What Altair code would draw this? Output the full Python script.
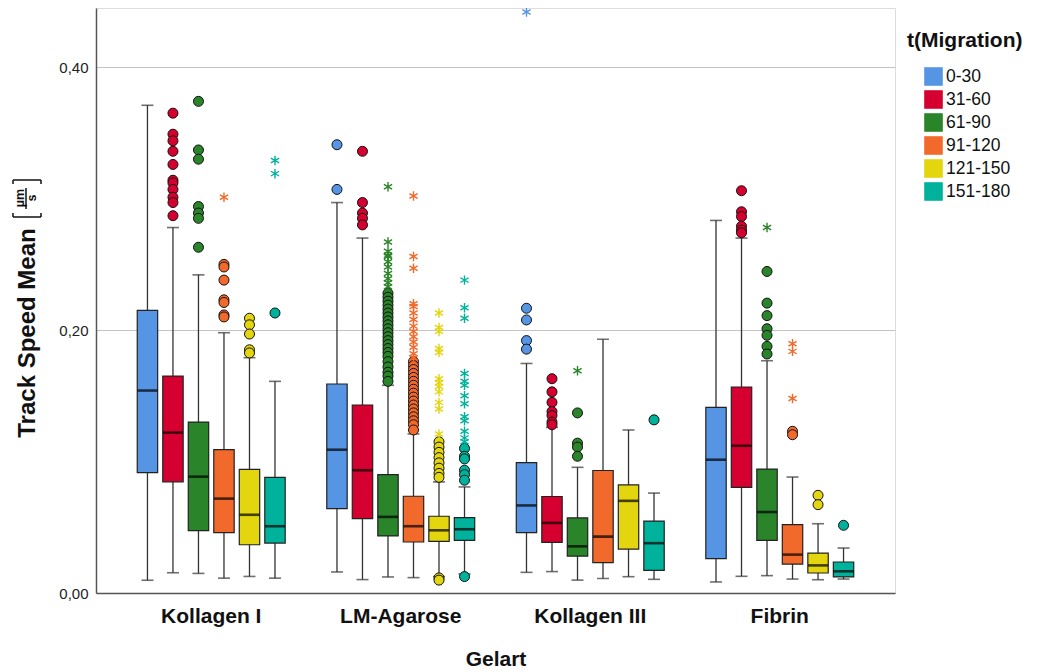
import altair as alt
import pandas as pd

groups = ["Kollagen I", "LM-Agarose", "Kollagen III", "Fibrin"]
series = ["0-30", "31-60", "61-90", "91-120", "121-150", "151-180"]
colors = ["#5595e4", "#d5002f", "#2a8429", "#f26a2b", "#e3d50e", "#00b19c"]

# box statistics: one row per group, one entry per series
whisker_low = [
    [0.0097, 0.0154, 0.0149, 0.0113, 0.0126, 0.0113],
    [0.0160, 0.0102, 0.0122, 0.0117, 0.0125, 0.0145],
    [0.0157, 0.0163, 0.0098, 0.0110, 0.0124, 0.0104],
    [0.0084, 0.0127, 0.0132, 0.0106, 0.0101, 0.0106],
]
q1 = [
    [0.0915, 0.0846, 0.0474, 0.0460, 0.0367, 0.0380],
    [0.0642, 0.0566, 0.0434, 0.0388, 0.0393, 0.0401],
    [0.0459, 0.0385, 0.0281, 0.0231, 0.0334, 0.0172],
    [0.0261, 0.0804, 0.0400, 0.0220, 0.0152, 0.0122],
]
median = [
    [0.1540, 0.1220, 0.0885, 0.0718, 0.0595, 0.0508],
    [0.1090, 0.0934, 0.0579, 0.0508, 0.0477, 0.0485],
    [0.0666, 0.0533, 0.0355, 0.0429, 0.0701, 0.0379],
    [0.1014, 0.1120, 0.0616, 0.0292, 0.0210, 0.0165],
]
q3 = [
    [0.2150, 0.1650, 0.1300, 0.1090, 0.0940, 0.0880],
    [0.1590, 0.1430, 0.0900, 0.0736, 0.0584, 0.0574],
    [0.0991, 0.0734, 0.0571, 0.0932, 0.0822, 0.0547],
    [0.1412, 0.1567, 0.0943, 0.0520, 0.0304, 0.0236],
]
whisker_high = [
    [0.3710, 0.2780, 0.2420, 0.1980, 0.1790, 0.1610],
    [0.2970, 0.2700, 0.1580, 0.1210, 0.0845, 0.0807],
    [0.1746, 0.1260, 0.0956, 0.1930, 0.1240, 0.0760],
    [0.2834, 0.2700, 0.1767, 0.0882, 0.0527, 0.0342],
]

# outliers (circles) and extreme values (asterisks)
circles_kollagen1 = {
    "31-60": [0.365, 0.349, 0.344, 0.336, 0.326, 0.314, 0.312, 0.307, 0.301, 0.297, 0.287],
    "61-90": [0.374, 0.337, 0.330, 0.294, 0.289, 0.285, 0.263],
    "91-120": [0.250, 0.248, 0.238, 0.223, 0.221, 0.2115, 0.210],
    "121-150": [0.209, 0.204, 0.197, 0.185, 0.1826],
    "151-180": [0.213],
}
stars_kollagen1 = {"91-120": [0.301], "151-180": [0.329, 0.319]}

circles_agarose = {
    "0-30": [0.341, 0.307],
    "31-60": [0.336, 0.297, 0.289, 0.285, 0.280],
    "61-90": [0.228, 0.225, 0.222, 0.219, 0.216, 0.213, 0.210, 0.207, 0.204, 0.201, 0.198,
              0.195, 0.192, 0.189, 0.186, 0.183, 0.180, 0.176, 0.172, 0.168, 0.165, 0.161],
    "91-120": [0.176, 0.173, 0.170, 0.167, 0.164, 0.161, 0.158, 0.155, 0.152, 0.149, 0.146,
               0.143, 0.140, 0.137, 0.134, 0.131, 0.128, 0.124],
    "121-150": [0.115, 0.111, 0.107, 0.103, 0.099, 0.095, 0.091, 0.088, 0.0115, 0.0098],
    "151-180": [0.110, 0.104, 0.102, 0.0934, 0.090, 0.0858, 0.0125],
}
stars_agarose = {
    "61-90": [0.309, 0.267, 0.260, 0.257, 0.256, 0.252, 0.248, 0.243, 0.239, 0.236, 0.233],
    "91-120": [0.302, 0.256, 0.247, 0.220, 0.218, 0.213, 0.208, 0.203, 0.199, 0.195, 0.191,
               0.187, 0.182, 0.179],
    "121-150": [0.213, 0.202, 0.199, 0.186, 0.183, 0.163, 0.160, 0.157, 0.153, 0.145, 0.140, 0.121],
    "151-180": [0.238, 0.217, 0.209, 0.167, 0.161, 0.158, 0.150, 0.144, 0.134, 0.131, 0.123,
                0.118, 0.115],
}

circles_kollagen3 = {
    "0-30": [0.2166, 0.2077, 0.192, 0.1855],
    "31-60": [0.163, 0.153, 0.145, 0.138, 0.135, 0.130, 0.128],
    "61-90": [0.137, 0.114, 0.111, 0.104],
    "151-180": [0.1317],
}
stars_kollagen3 = {"0-30": [0.442], "61-90": [0.169]}

circles_fibrin = {
    "31-60": [0.306, 0.290, 0.2864, 0.279, 0.276, 0.274],
    "61-90": [0.2446, 0.2205, 0.211, 0.201, 0.196, 0.1876, 0.1818],
    "91-120": [0.123, 0.1204],
    "121-150": [0.0743, 0.0672],
    "151-180": [0.0515],
}
stars_fibrin = {"61-90": [0.278], "91-120": [0.1896, 0.1838, 0.148]}

y_title = "Track Speed Mean"
y_unit_top = "µm"
y_unit_bottom = "s"
legend_title_text = "t(Migration)"

# ---- tables ----
box_rows = []
for gi, g in enumerate(groups):
    for si, s in enumerate(series):
        box_rows.append({
            "group": g, "series": s,
            "low": whisker_low[gi][si], "q1": q1[gi][si], "median": median[gi][si],
            "q3": q3[gi][si], "high": whisker_high[gi][si],
        })
box_df = pd.DataFrame(box_rows)


def to_rows(group, d):
    return [{"group": group, "series": s, "value": v} for s, vals in d.items() for v in vals]


circle_df = pd.DataFrame(
    to_rows("Kollagen I", circles_kollagen1) + to_rows("LM-Agarose", circles_agarose)
    + to_rows("Kollagen III", circles_kollagen3) + to_rows("Fibrin", circles_fibrin)
)
star_df = pd.DataFrame(
    to_rows("Kollagen I", stars_kollagen1) + to_rows("LM-Agarose", stars_agarose)
    + to_rows("Kollagen III", stars_kollagen3) + to_rows("Fibrin", stars_fibrin)
)

FONT = "Liberation Sans"
yscale = alt.Scale(domain=[0, 0.445], nice=False, zero=True)
xenc = alt.X(
    "group:N", sort=groups, scale=alt.Scale(paddingInner=0, paddingOuter=0.108),
    axis=alt.Axis(title="Gelart", labelFontSize=21, labelFontWeight="bold", labelColor="#111",
                  titleFontSize=21, titleFontWeight="bold", titleColor="#111", labelPadding=12,
                  titlePadding=22, ticks=False, domainColor="#555", domainWidth=1.5,
                  labelAngle=0, labelFont=FONT, titleFont=FONT),
)
xoff = alt.XOffset("series:N", sort=series,
                   scale=alt.Scale(paddingInner=0.2, paddingOuter=0.815))
cscale = alt.Scale(domain=series, range=colors)
yaxis = alt.Axis(
    title=None, values=[0, 0.2, 0.4],
    labelExpr="replace(format(datum.value, '.2f'), '.', ',')",
    grid=True, gridColor="#c4c4c4", gridWidth=1, ticks=False, domainColor="#555",
    domainWidth=1.5, labelFontSize=15, labelColor="#222", labelPadding=8, labelFont=FONT,
)

base = alt.Chart(box_df).encode(x=xenc, xOffset=xoff)

whiskers = base.mark_rule(color="#333", strokeWidth=1.3).encode(
    y=alt.Y("low:Q", scale=yscale, axis=yaxis), y2="high:Q")
cap_low = base.mark_tick(color="#333", size=12, thickness=1.6).encode(y="low:Q")
cap_high = base.mark_tick(color="#333", size=12, thickness=1.6).encode(y="high:Q")
boxes = base.mark_bar(stroke="#222", strokeWidth=1.2, opacity=1).encode(
    y="q1:Q", y2="q3:Q",
    color=alt.Color("series:N", sort=series, scale=cscale,
                    legend=alt.Legend(title=None, orient="none", legendX=828, legendY=59,
                                      symbolType="square", symbolSize=300,
                                      symbolStrokeColor="#222", symbolStrokeWidth=1.2,
                                      symbolOpacity=1,
                                      labelFontSize=17.5, labelFont=FONT, labelColor="#111",
                                      rowPadding=0, labelOffset=3)),
)
medians = base.mark_tick(color="black", size=20, thickness=2.6).encode(y="median:Q")

circles = alt.Chart(circle_df).mark_point(
    shape="circle", filled=True, size=100, stroke="#111", strokeWidth=1, opacity=1, fillOpacity=1
).encode(
    x=alt.X("group:N", sort=groups), xOffset=alt.XOffset("series:N", sort=series), y="value:Q",
    fill=alt.Fill("series:N", sort=series, scale=cscale, legend=None),
)

asterisk = "M0,-1L0,1M-0.866,-0.5L0.866,0.5M-0.866,0.5L0.866,-0.5"
stars = alt.Chart(star_df).mark_point(
    shape=asterisk, filled=False, size=90, strokeWidth=1.4, opacity=1
).encode(
    x=alt.X("group:N", sort=groups), xOffset=alt.XOffset("series:N", sort=series), y="value:Q",
    stroke=alt.Stroke("series:N", sort=series, scale=cscale, legend=None),
)

# annotation texts (legend title, y-axis title with unit fraction)
legend_title = alt.Chart(pd.DataFrame({"t": [legend_title_text]})).mark_text(
    align="left", baseline="middle", fontSize=21, fontWeight="bold", font=FONT, color="#111"
).encode(text="t:N", x=alt.value(811), y=alt.value(33))

title_main = alt.Chart(pd.DataFrame({"t": [y_title]})).mark_text(
    align="center", baseline="middle", angle=270, fontSize=24, fontWeight="bold",
    font=FONT, color="#111"
).encode(text="t:N", x=alt.value(-68), y=alt.value(325))
unit_top = alt.Chart(pd.DataFrame({"t": [y_unit_top]})).mark_text(
    align="center", baseline="middle", angle=270, fontSize=12.5, fontWeight="bold",
    font=FONT, color="#111"
).encode(text="t:N", x=alt.value(-76), y=alt.value(190))
unit_bottom = alt.Chart(pd.DataFrame({"t": [y_unit_bottom]})).mark_text(
    align="center", baseline="middle", angle=270, fontSize=12.5, fontWeight="bold",
    font=FONT, color="#111"
).encode(text="t:N", x=alt.value(-64), y=alt.value(190))
frac_rule = alt.Chart(pd.DataFrame({"t": [0]})).mark_rule(color="#111", strokeWidth=1.5).encode(
    x=alt.value(-70), y=alt.value(180), y2=alt.value(201))
br_low = alt.Chart(pd.DataFrame({"t": [0]})).mark_rule(color="#111", strokeWidth=1.5).encode(
    x=alt.value(-83), x2=alt.value(-55), y=alt.value(209))
br_low_a = alt.Chart(pd.DataFrame({"t": [0]})).mark_rule(color="#111", strokeWidth=1.5).encode(
    x=alt.value(-83), y=alt.value(205), y2=alt.value(209))
br_low_b = alt.Chart(pd.DataFrame({"t": [0]})).mark_rule(color="#111", strokeWidth=1.5).encode(
    x=alt.value(-55), y=alt.value(205), y2=alt.value(209))
br_high = alt.Chart(pd.DataFrame({"t": [0]})).mark_rule(color="#111", strokeWidth=1.5).encode(
    x=alt.value(-83), x2=alt.value(-55), y=alt.value(172))
br_high_a = alt.Chart(pd.DataFrame({"t": [0]})).mark_rule(color="#111", strokeWidth=1.5).encode(
    x=alt.value(-83), y=alt.value(172), y2=alt.value(176))
br_high_b = alt.Chart(pd.DataFrame({"t": [0]})).mark_rule(color="#111", strokeWidth=1.5).encode(
    x=alt.value(-55), y=alt.value(172), y2=alt.value(176))

chart = alt.layer(
    whiskers, cap_low, cap_high, boxes, medians, circles, stars, legend_title,
    title_main, unit_top, unit_bottom, frac_rule,
    br_low, br_low_a, br_low_b, br_high, br_high_a, br_high_b,
).properties(
    width=799, height=585, autosize=alt.AutoSizeParams(type="none"),
    padding={"left": 88, "top": 0, "right": 133, "bottom": 76},
).configure_view(stroke=None).configure(font=FONT)

chart.save("out.html", embed_options={"renderer": "svg", "actions": False})
